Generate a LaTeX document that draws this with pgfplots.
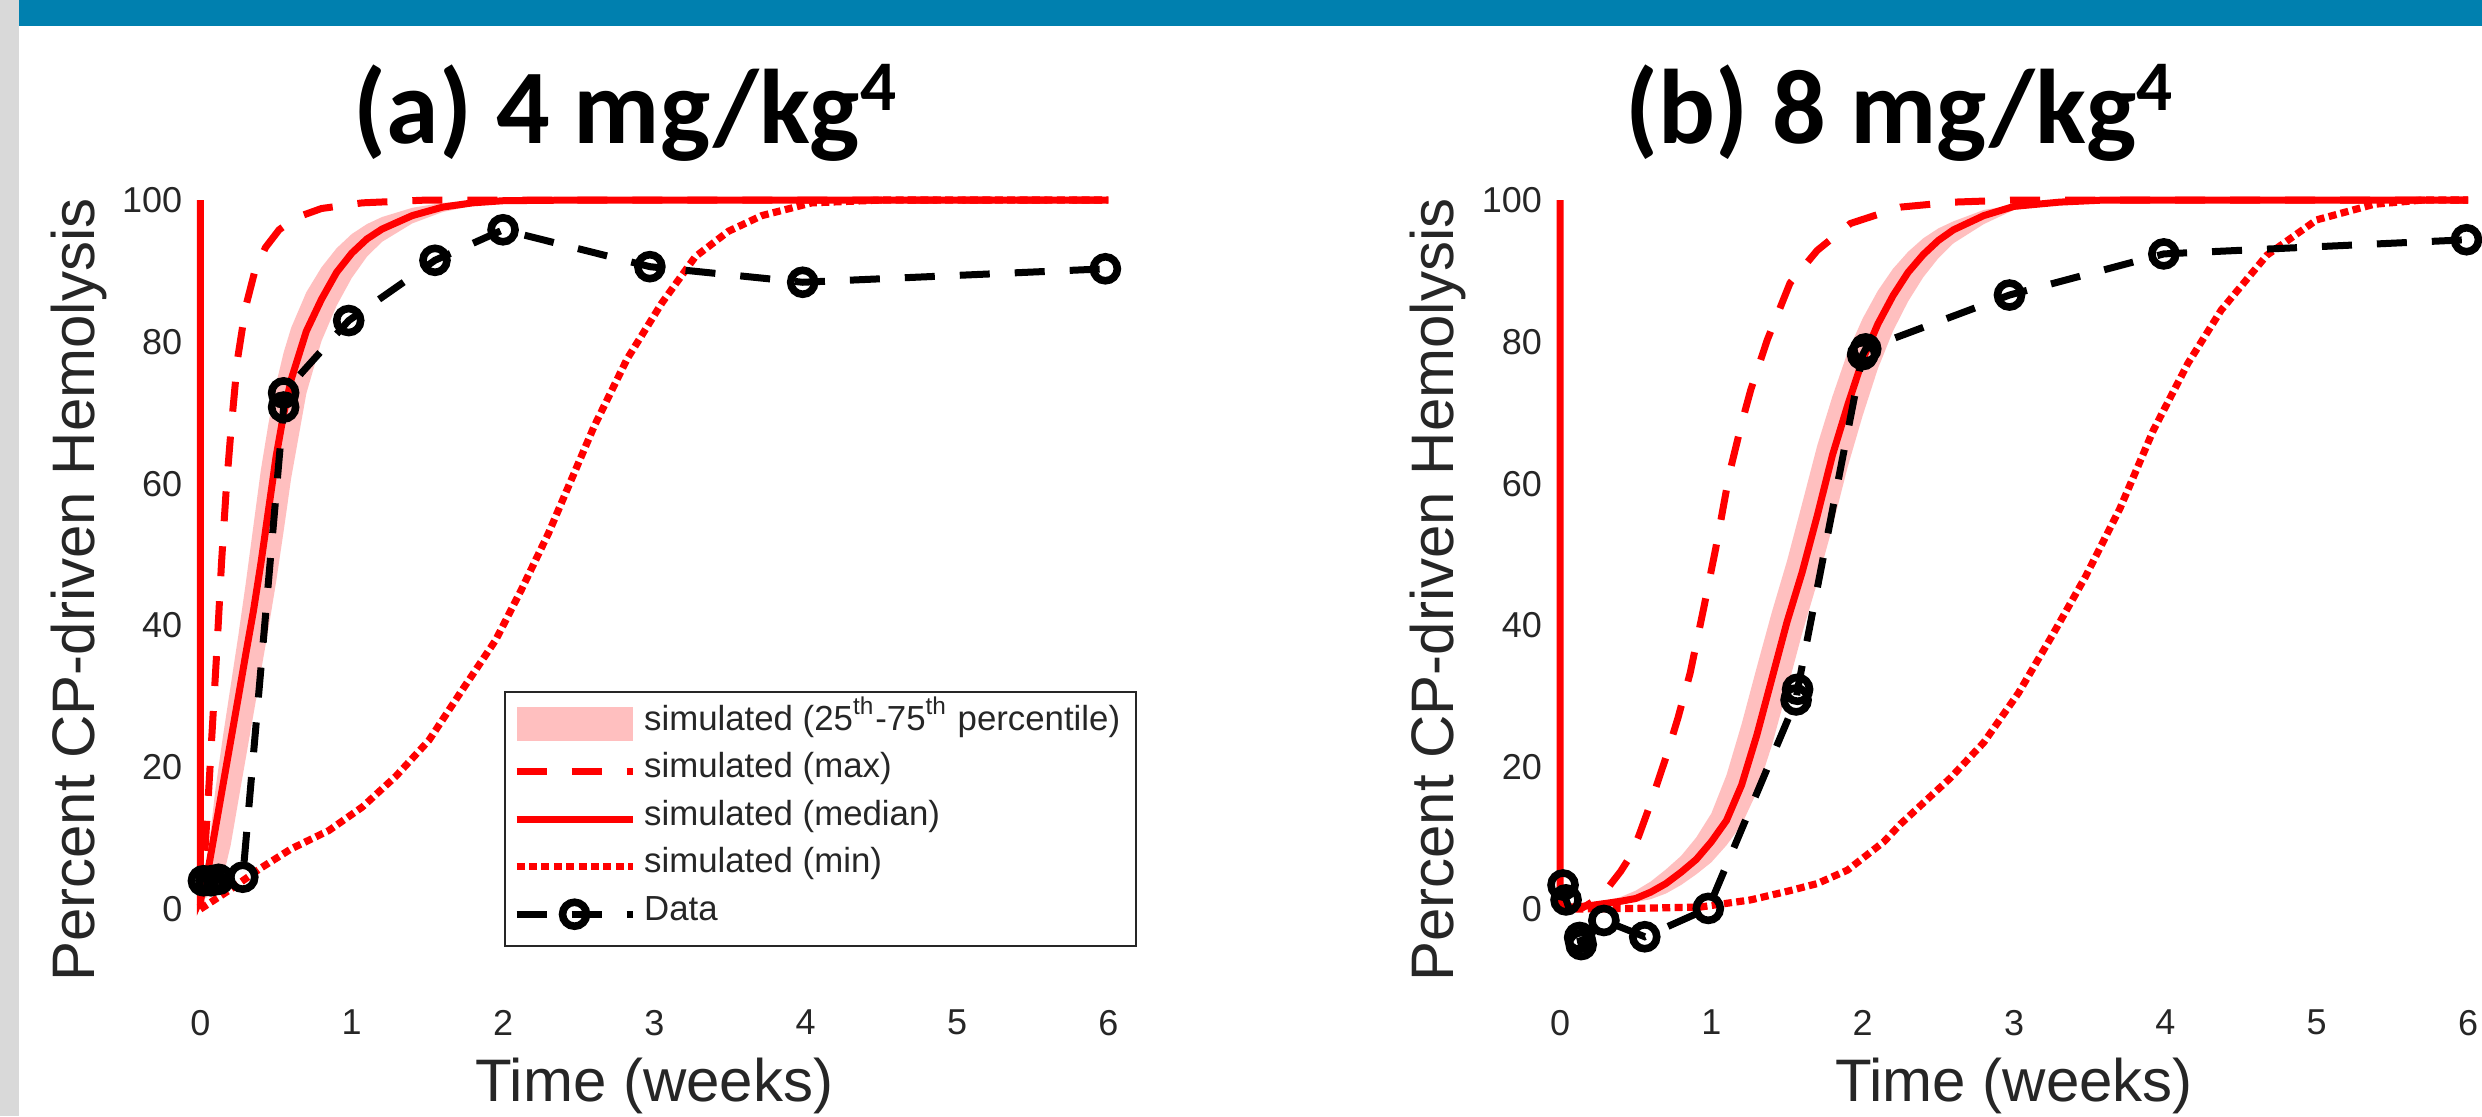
\documentclass[border=0pt]{standalone}
\usepackage{fontspec}
\setmainfont{Liberation Sans}
\newfontfamily\titlefont{Carlito}
\usepackage{pgfplots}
\pgfplotsset{compat=1.18}
\usepgfplotslibrary{fillbetween}

\definecolor{axgray}{RGB}{38,38,38}
\definecolor{band}{RGB}{255,191,191}
\definecolor{slideblue}{RGB}{0,128,175}
\definecolor{stripgray}{RGB}{217,217,217}

\pgfplotsset{
  panel/.style={
    scale only axis, width=227pt, height=195pt,
    anchor=south west,
    xmin=0, xmax=6, ymin=-10, ymax=100,
    xtick={0,...,6}, ytick={0,20,...,100},
    axis lines*=left,
    axis line style={axgray, line width=0.5pt},
    major tick style={axgray, line width=0.5pt},
    major tick length=2.2pt,
    tick align=inside,
    tick label style={font=\fontsize{9}{10}\selectfont, text=axgray},
    xticklabel style={yshift=-4pt},
    yticklabel style={xshift=-1pt},
    /pgf/number format/assume math mode=true,
    label style={font=\fontsize{15}{17}\selectfont, text=axgray},
    xlabel={Time (weeks)},
    ylabel={Percent CP-driven Hemolysis},
    xlabel style={at={(axis description cs:0.5,-0.156)}, anchor=base},
    ylabel style={at={(axis description cs:-0.117,0.5)}, anchor=base},
    clip=false,
    /tikz/fill between/on layer=main,
    legend image code/.code={
      \draw[mark repeat=2, mark phase=2, ##1]
        plot coordinates {(0pt,0pt) (14.5pt,0pt) (29pt,0pt)};},
  },
  bandfill/.style={fill=band, draw=none},
  medline/.style={red, line width=1.75pt},
  maxline/.style={red, line width=1.75pt, dash pattern=on 7.5pt off 6.25pt},
  minline/.style={red, line width=1.8pt, dash pattern=on 2pt off 1.1pt},
  dataline/.style={black, line width=1.75pt, dash pattern=on 7.5pt off 6.25pt,
    mark=o, mark size=3pt, mark options={solid, line width=1.9pt}},
}

\begin{document}
\begin{tikzpicture}
\fill[white] (0,0) rectangle (620.5pt,-279pt);
\fill[stripgray] (0,0) rectangle (4.7pt,-279pt);
\fill[slideblue] (4.7pt,0) rectangle (620.5pt,-6.5pt);

\node[anchor=base, font={\titlefont\bfseries\fontsize{26.5}{30}\selectfont}]
  at (156.25pt,-35.75pt) {(a) 4 mg/kg\raisebox{8.25pt}{\fontsize{17.8}{18}\selectfont 4}};
\node[anchor=base, font={\titlefont\bfseries\fontsize{26.5}{30}\selectfont}]
  at (474.75pt,-35.75pt) {(b) 8 mg/kg\raisebox{8.25pt}{\fontsize{17.8}{18}\selectfont 4}};

% panel (a)
\begin{axis}[panel, at={(50.1pt,-245pt)},
  legend style={at={(axis description cs:0.3343,0.3705)}, anchor=north west,
    draw=axgray, line width=0.5pt, fill=white, text=axgray,
    font=\fontsize{8.7}{10}\selectfont, inner xsep=2pt, inner ysep=2pt,
    row sep=0pt, nodes={inner ysep=0pt, text height=7.5pt, text depth=4.4pt}},
  legend cell align=left]
\addplot[name path=ua, draw=none, forget plot] coordinates {
  (0,1.5) (0.03,4) (0.1,17) (0.15,24.5) (0.2,31.5) (0.25,38.5) (0.3,46) (0.35,54)
  (0.4,62) (0.45,68.5) (0.5,74) (0.55,78.5) (0.6,82) (0.7,87) (0.8,90.5) (0.9,93.2)
  (1.0,95.2) (1.1,96.6) (1.2,97.6) (1.4,98.9) (1.6,99.6) (1.8,99.9) (2.0,100) (6,100)};
\addplot[name path=la, draw=none, forget plot] coordinates {
  (0,1.5) (0.03,1.5) (0.1,2.5) (0.15,4.5) (0.2,9) (0.25,15.2) (0.3,21.3) (0.35,27.4)
  (0.4,33.5) (0.45,39.6) (0.5,46.1) (0.55,53.3) (0.6,60.8) (0.7,72.7) (0.8,80.1)
  (0.9,85.1) (1.0,89) (1.1,92) (1.2,94.1) (1.4,96.7) (1.6,98.3) (1.8,99.2) (2.0,99.7)
  (2.5,100) (6,100)};
\addplot[bandfill,
  legend image code/.code={\fill[band] (0pt,-4.25pt) rectangle (29pt,4.25pt);}]
  fill between[of=ua and la];
\addplot[maxline] coordinates {
  (0,0.5) (0.02,5) (0.05,15) (0.08,26) (0.11,37) (0.14,49) (0.17,59) (0.2,67)
  (0.245,77.5) (0.3,85) (0.36,90) (0.43,93.3) (0.52,95.8) (0.63,97.5) (0.8,98.8)
  (1.07,99.6) (1.5,100) (6,100)};
\addplot[medline] coordinates {
  (0,100) (0,1.5) (0.03,3) (0.1,11.5) (0.15,17.6) (0.2,23.7) (0.25,29.8) (0.3,36)
  (0.35,42) (0.4,48.8) (0.45,56.3) (0.5,63.8) (0.55,69.8) (0.6,74.7) (0.7,81.5)
  (0.8,86) (0.9,89.8) (1.0,92.5) (1.1,94.5) (1.2,95.9) (1.4,97.8) (1.6,99)
  (1.8,99.6) (2.0,99.9) (2.5,100) (6,100)};
\addplot[minline] coordinates {
  (0,0) (0.1,1.4) (0.2,2.8) (0.4,5.8) (0.6,8.5) (0.85,11.1) (1.07,14.4) (1.29,18.7)
  (1.51,23.8) (1.73,30.9) (1.95,37.9) (2.12,45) (2.3,53) (2.45,60.5) (2.6,68)
  (2.82,77.6) (3.05,85.5) (3.27,92) (3.49,95.6) (3.71,97.8) (4.04,99.6) (4.5,100) (6,100)};
\addplot[dataline] coordinates {
  (0.02,4) (0.07,4) (0.12,4.2) (0.28,4.5) (0.55,70.8) (0.55,72.8) (0.98,83)
  (1.55,91.5) (2.0,95.8) (2.97,90.6) (3.98,88.4) (5.98,90.3)};
\legend{simulated (25\textsuperscript{th}-75\textsuperscript{th} percentile),
  simulated (max), simulated (median), simulated (min), Data}
\end{axis}

% panel (b)
\begin{axis}[panel, at={(390pt,-245pt)}]
\addplot[name path=ub, draw=none] coordinates {
  (0,0.3) (0.1,0.6) (0.2,0.9) (0.3,1.2) (0.4,1.7) (0.5,2.6) (0.6,3.9) (0.7,5.6)
  (0.8,7.5) (0.9,10.1) (1.0,13.5) (1.1,18.9) (1.2,26.1) (1.3,34.1) (1.4,41.9)
  (1.5,49.1) (1.6,57.2) (1.7,65.4) (1.8,72.3) (1.9,78.5) (2.0,83.3) (2.1,87.2)
  (2.2,90.3) (2.3,92.7) (2.4,94.6) (2.5,96) (2.6,97) (2.8,98.6) (3.0,99.3)
  (3.3,99.9) (3.6,100) (6,100)};
\addplot[name path=lb, draw=none] coordinates {
  (0,0.2) (0.1,0.2) (0.2,0.3) (0.3,0.5) (0.4,0.7) (0.5,1) (0.6,1.4) (0.7,2.2)
  (0.8,3.4) (0.9,4.9) (1.0,6.6) (1.1,9) (1.2,11.9) (1.3,16.5) (1.4,23.1) (1.5,30.9)
  (1.6,38.9) (1.7,46.1) (1.8,53.9) (1.9,62.3) (2.0,69.6) (2.1,76.2) (2.2,81.5)
  (2.3,85.7) (2.4,89.1) (2.5,91.8) (2.6,93.9) (2.8,96.6) (3.0,98.6) (3.3,99.5)
  (3.6,99.9) (6,100)};
\addplot[bandfill] fill between[of=ub and lb];
\addplot[maxline] coordinates {
  (0.02,0) (0.15,0.2) (0.25,1.5) (0.32,3.1) (0.4,5.3) (0.46,7.3) (0.52,10.3)
  (0.59,14.4) (0.7,21.4) (0.78,27) (0.86,33.3) (0.95,42.5) (1.03,51) (1.12,61.5)
  (1.2,68.5) (1.26,73.2) (1.37,80.3) (1.52,88.3) (1.7,92.9) (1.92,96.7) (2.25,99)
  (2.6,99.7) (3,100) (6,100)};
\addplot[medline] coordinates {
  (0,100) (0,0.3) (0.1,0.3) (0.2,0.5) (0.3,0.8) (0.4,1.1) (0.5,1.5) (0.6,2.4)
  (0.7,3.6) (0.8,5.2) (0.9,7) (1.0,9.5) (1.1,12.5) (1.2,17.5) (1.3,24.5) (1.4,32.5)
  (1.5,40.5) (1.6,47.5) (1.7,55.5) (1.8,64) (1.9,71) (2.0,77.5) (2.1,82.5)
  (2.2,86.5) (2.3,89.8) (2.4,92.3) (2.5,94.3) (2.6,95.8) (2.8,97.8) (3.0,99.1)
  (3.3,99.7) (3.6,100) (6,100)};
\addplot[minline] coordinates {
  (0.02,0) (0.5,0.1) (0.93,0.3) (1.26,1.3) (1.5,2.5) (1.7,3.6) (1.9,5.5) (2.14,9.5)
  (2.25,12) (2.58,18.5) (2.8,23.5) (3.03,30.5) (3.25,38.5) (3.47,46.8) (3.7,56.5)
  (3.92,67.5) (4.15,77) (4.37,84.5) (4.67,92.2) (5.0,97.2) (5.38,99.4) (5.7,100) (6,100)};
\addplot[dataline] coordinates {
  (0.02,3.4) (0.04,1.3) (0.13,-4) (0.14,-5) (0.29,-1.6) (0.56,-3.9) (0.98,0.1)
  (1.56,29.5) (1.57,31) (2.0,78.2) (2.02,79) (2.97,86.6) (3.99,92.4) (5.99,94.4)};
\end{axis}
\pgfresetboundingbox
\path[use as bounding box] (0,0) rectangle (620.5pt,-279pt);
\end{tikzpicture}
\end{document}
